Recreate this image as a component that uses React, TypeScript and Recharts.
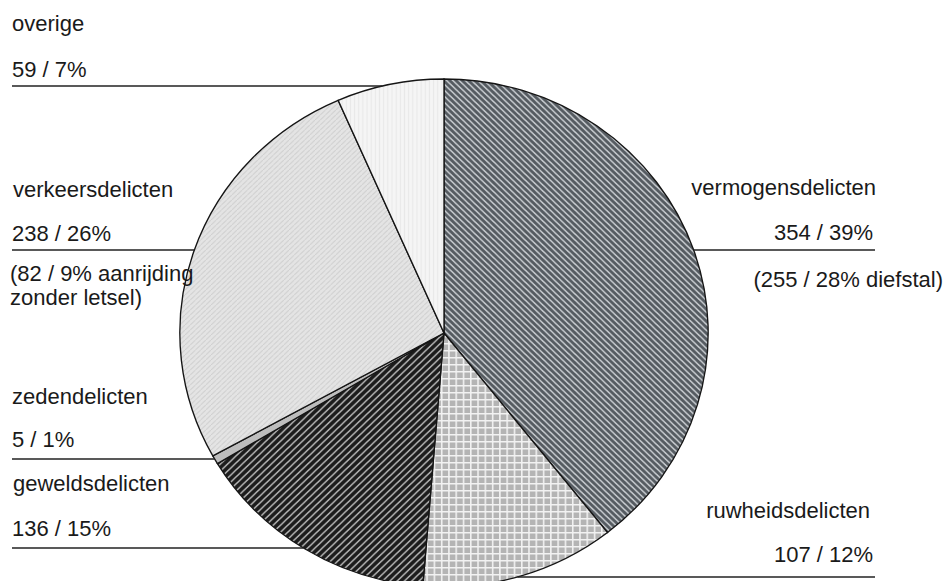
import React from 'react';
import { PieChart, Pie, Cell } from 'recharts';

// ---- data ----
const categories = [
  'vermogensdelicten',
  'ruwheidsdelicten',
  'geweldsdelicten',
  'zedendelicten',
  'verkeersdelicten',
  'overige',
];
const counts = [354, 107, 136, 5, 238, 59];
const valueLabels = ['354 / 39%', '107 / 12%', '136 / 15%', '5 / 1%', '238 / 26%', '59 / 7%'];
const noteVermogens = ['(255 / 28% diefstal)'];
const noteVerkeers = ['(82 / 9% aanrijding', 'zonder letsel)'];

const data = categories.map((name, i) => ({ name, value: counts[i] }));

// ---- layout / style ----
const W = 946;
const H = 581;
const CX = 444;
const CY = 333;
const R = 254;
const SX = 1.04; // horizontal stretch of the scanned pie
const fills = ['url(#pVerm)', 'url(#pRuw)', 'url(#pGew)', '#bdbdbd', 'url(#pVerk)', 'url(#pOver)'];
const FONT = "'Liberation Sans', Arial, Helvetica, sans-serif";
const FS = 22;

function edgeX(y: number, side: number) {
  const dy = (CY - y) / R;
  const dx = R * SX * Math.sqrt(Math.max(0, 1 - dy * dy));
  return CX + side * dx;
}

type Lab = {
  idx: number;
  name: { x: number; y: number; anchor: 'start' | 'end' };
  val: { x: number; y: number; anchor: 'start' | 'end' };
  line: { y: number; x1: number | null; x2: number | null };
  notes?: { lines: string[]; x: number; y: number; dy: number; anchor: 'start' | 'end' };
};

const labels: Lab[] = [
  { idx: 5, name: { x: 12, y: 31, anchor: 'start' }, val: { x: 12, y: 77, anchor: 'start' }, line: { y: 86, x1: 12, x2: null } },
  {
    idx: 4,
    name: { x: 13, y: 197, anchor: 'start' },
    val: { x: 12, y: 241, anchor: 'start' },
    line: { y: 250, x1: 12, x2: null },
    notes: { lines: noteVerkeers, x: 10, y: 281, dy: 24, anchor: 'start' },
  },
  { idx: 3, name: { x: 12, y: 404, anchor: 'start' }, val: { x: 12, y: 447, anchor: 'start' }, line: { y: 459, x1: 12, x2: null } },
  { idx: 2, name: { x: 13, y: 491, anchor: 'start' }, val: { x: 12, y: 536, anchor: 'start' }, line: { y: 548, x1: 12, x2: null } },
  {
    idx: 0,
    name: { x: 876, y: 195, anchor: 'end' },
    val: { x: 873, y: 240, anchor: 'end' },
    line: { y: 250, x1: null, x2: 875 },
    notes: { lines: noteVermogens, x: 943, y: 287, dy: 24, anchor: 'end' },
  },
  { idx: 1, name: { x: 870, y: 518, anchor: 'end' }, val: { x: 873, y: 562, anchor: 'end' }, line: { y: 577, x1: null, x2: 875 } },
];

function Patterns() {
  return (
    <svg width={0} height={0} style={{ position: 'absolute' }}>
      <defs>
        <pattern id="pVerm" patternUnits="userSpaceOnUse" width={6} height={6}>
          <rect width={6} height={6} fill="#555b61" />
          <path d="M-1,-1 L7,7 M-1,5 L1,7 M5,-1 L7,1" stroke="#c8ccd0" strokeWidth={1.5} />
        </pattern>
        <pattern id="pGew" patternUnits="userSpaceOnUse" width={7} height={7}>
          <rect width={7} height={7} fill="#1c1c1c" />
          <path d="M-1,8 L8,-1 M-1,1 L1,-1 M6,8 L8,6" stroke="#b4b4b4" strokeWidth={1.5} />
        </pattern>
        <pattern id="pRuw" patternUnits="userSpaceOnUse" width={7} height={7}>
          <rect width={7} height={7} fill="#f2f2f2" />
          <rect x={1.5} y={1.5} width={5.5} height={5.5} fill="#b4b4b4" />
        </pattern>
        <pattern id="pVerk" patternUnits="userSpaceOnUse" width={5} height={5}>
          <rect width={5} height={5} fill="#e4e4e4" />
          <path d="M0,5 L5,0" stroke="#d0d0d0" strokeWidth={1} />
        </pattern>
        <pattern id="pOver" patternUnits="userSpaceOnUse" width={4} height={4}>
          <rect width={4} height={4} fill="#f5f5f5" />
          <path d="M2,0 L2,4" stroke="#e8e8e8" strokeWidth={1} />
        </pattern>
      </defs>
    </svg>
  );
}

export default function App() {
  const txt = { fontFamily: FONT, fontSize: FS, fill: '#1a1a1a' };
  return (
    <div style={{ position: 'absolute', left: 0, top: 0, width: W, height: H, background: '#fff', overflow: 'hidden' }}>
      <Patterns />
      <div
        style={{
          position: 'absolute',
          left: 0,
          top: 0,
          width: W,
          height: H,
          transform: `scaleX(${SX})`,
          transformOrigin: `${CX}px ${CY}px`,
        }}
      >
        <PieChart width={W} height={H} margin={{ top: 0, right: 0, bottom: 0, left: 0 }}>
          <Pie
            data={data}
            dataKey="value"
            nameKey="name"
            cx={CX}
            cy={CY}
            outerRadius={R}
            innerRadius={0}
            startAngle={90}
            endAngle={-270}
            stroke="#151515"
            strokeWidth={1.3}
            isAnimationActive={false}
            label={false}
            labelLine={false}
          >
            {data.map((d, i) => (
              <Cell key={d.name} fill={fills[i]} stroke="#151515" strokeWidth={1.3} />
            ))}
          </Pie>
        </PieChart>
      </div>
      <svg width={W} height={H} style={{ position: 'absolute', left: 0, top: 0 }}>
        {labels.map((l) => {
          const x1 = l.line.x1 ?? edgeX(l.line.y, 1);
          const x2 = l.line.x2 ?? edgeX(l.line.y, -1);
          return (
            <g key={l.idx}>
              <text x={l.name.x} y={l.name.y} textAnchor={l.name.anchor} {...txt}>
                {categories[l.idx]}
              </text>
              <text x={l.val.x} y={l.val.y} textAnchor={l.val.anchor} {...txt}>
                {valueLabels[l.idx]}
              </text>
              <line x1={x1} x2={x2} y1={l.line.y} y2={l.line.y} stroke="#222" strokeWidth={1.4} />
              {l.notes &&
                l.notes.lines.map((s, k) => (
                  <text key={k} x={l.notes!.x} y={l.notes!.y + k * l.notes!.dy} textAnchor={l.notes!.anchor} {...txt}>
                    {s}
                  </text>
                ))}
            </g>
          );
        })}
      </svg>
    </div>
  );
}
